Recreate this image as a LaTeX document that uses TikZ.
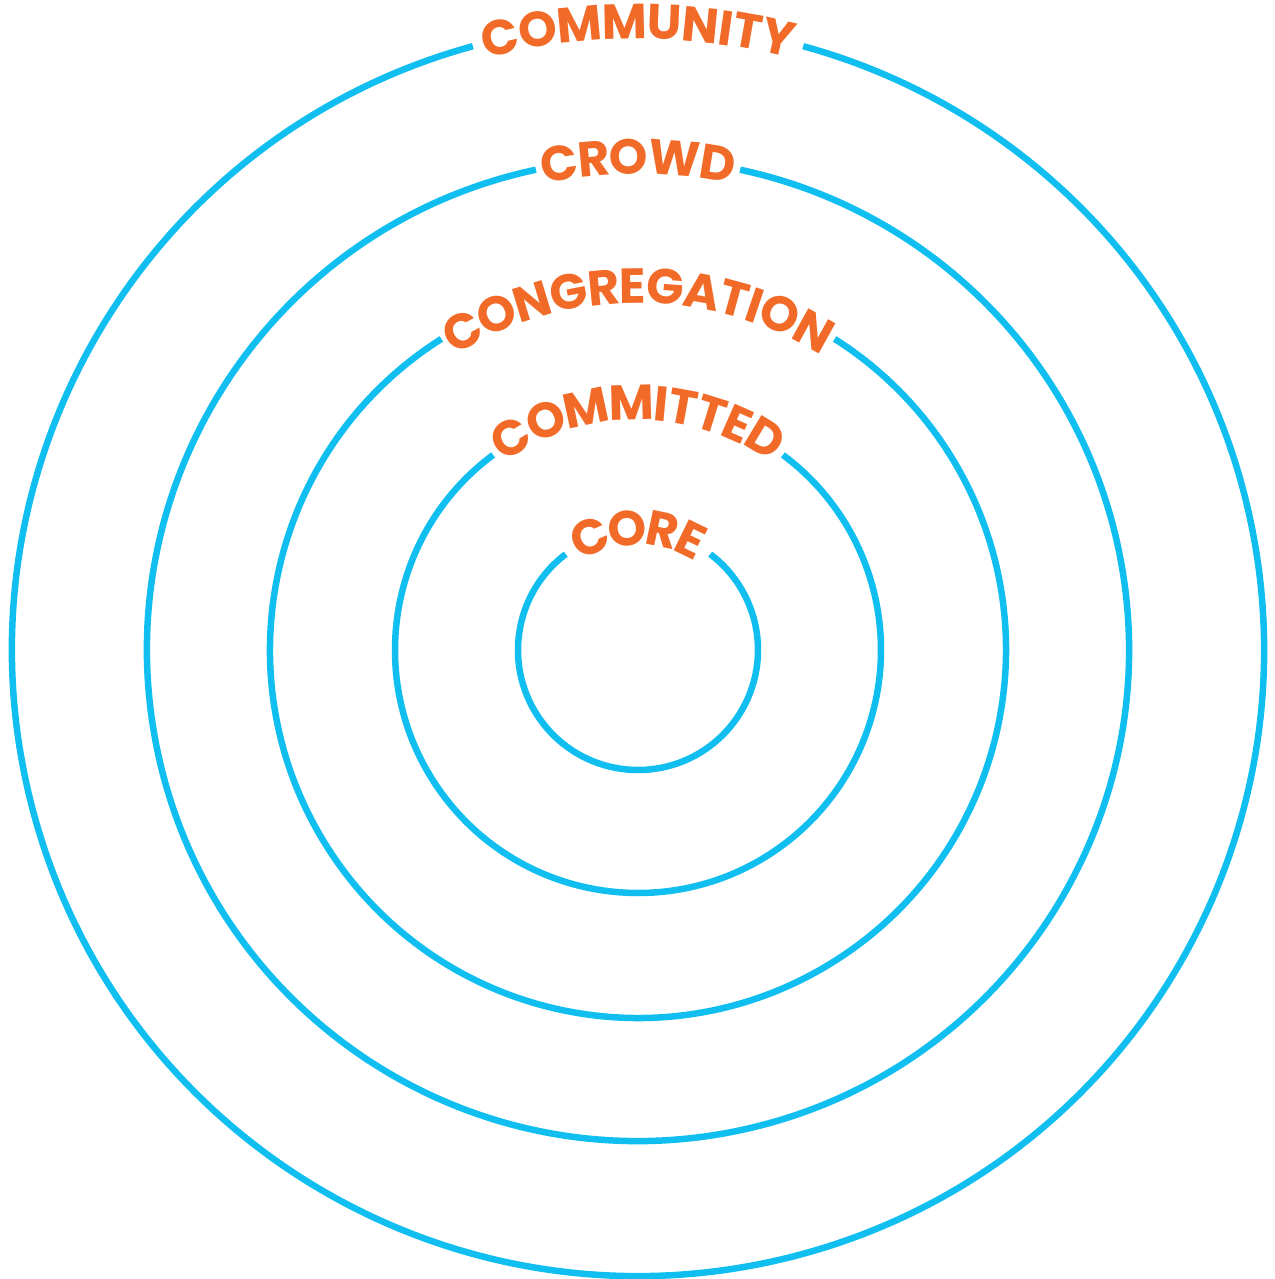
\documentclass[tikz,border=0pt]{standalone}
\usepackage{fontspec}
\setmainfont{Poppins}
\usetikzlibrary{decorations.text}
\definecolor{ringblue}{HTML}{10BFF0}
\definecolor{labelorange}{HTML}{F26A28}
\newcommand{\ringfont}{\fontsize{28}{28}\selectfont\bfseries\addfontfeature{LetterSpace=3}}
\tikzset{
  ring/.style={draw=ringblue, line width=0.13cm},
  ringlabel/.style={decorate, decoration={text along path, text align=center,
    raise=-0.30cm, text color=labelorange}}
}
\begin{document}
\begin{tikzpicture}
      \useasboundingbox (-12.76,-12.58) rectangle (12.72,13.0);
      \draw[ring] (105.3:12.52) arc[start angle=105.3, end angle=434.7, radius=12.52];
      \draw[ring] (102.0:9.82) arc[start angle=102.0, end angle=438.0, radius=9.82];
      \draw[ring] (122.3:7.36) arc[start angle=122.3, end angle=417.7, radius=7.36];
      \draw[ring] (126.6:4.86) arc[start angle=126.6, end angle=413.4, radius=4.86];
      \draw[ring] (127.0:2.40) arc[start angle=127.0, end angle=413.0, radius=2.40];
      \begin{scope}
        \path[ringlabel, decoration={text={|\ringfont|COMMUNITY}}]
          (105.3:12.52) arc[start angle=105.3, end angle=74.7, radius=12.52];
        \path[ringlabel, decoration={text={|\ringfont|CROWD}}]
          (102.0:9.82) arc[start angle=102.0, end angle=78.0, radius=9.82];
        \path[ringlabel, decoration={text={|\ringfont|CONGREGATION}}]
          (122.3:7.24) arc[start angle=122.3, end angle=57.7, radius=7.24];
        \path[ringlabel, decoration={text={|\ringfont|COMMITTED}}]
          (126.6:4.90) arc[start angle=126.6, end angle=53.4, radius=4.90];
        \path[ringlabel, decoration={text={|\ringfont|CORE}}]
          (127.0:2.40) arc[start angle=127.0, end angle=53.0, radius=2.40];
      \end{scope}
    \end{tikzpicture}
\end{document}
